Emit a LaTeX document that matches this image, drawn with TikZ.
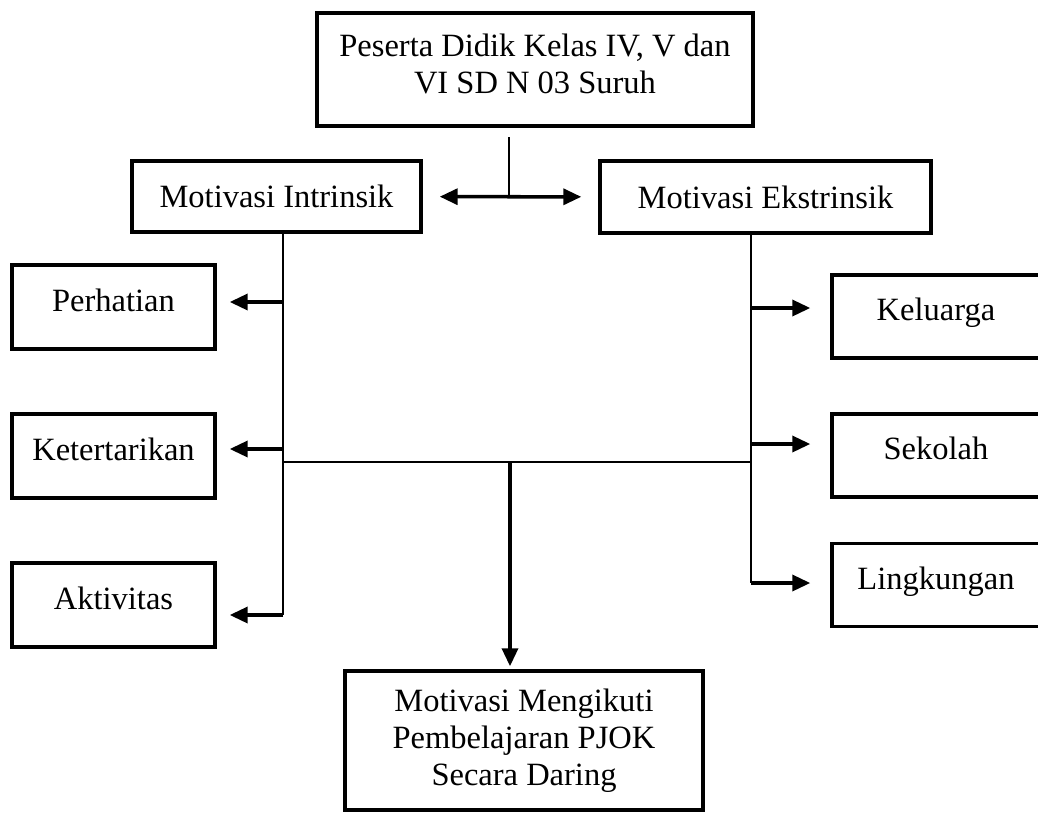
\documentclass[tikz,border=0pt]{standalone}
\usepackage{fontspec}
\setmainfont{Liberation Serif}
\usetikzlibrary{arrows.meta}
\tikzset{
  kotak/.style={draw, line width=2pt, align=center, inner sep=2pt,
    font=\fontsize{18.5}{21}\selectfont},
  isi/.style={text height=0.45cm, text depth=0.29cm},
  garis/.style={line width=0.8pt},
  panah/.style={line width=2pt, -{Triangle[length=0.36cm,width=0.32cm]}},
  panahdua/.style={line width=2pt,
    {Triangle[length=0.36cm,width=0.32cm]}-{Triangle[length=0.36cm,width=0.32cm]}}
}
\begin{document}
\begin{tikzpicture}[x=0.02cm, y=-0.02cm]
    \useasboundingbox (0,0) rectangle (1038,812) ;
    % kotak utama
    \node [kotak, minimum width=8.72cm, minimum height=2.26cm] (peserta) at (535,69.5)
      {Peserta Didik Kelas IV, V dan\\VI SD N 03 Suruh\\[-14pt]\mbox{}} ;
    \node [kotak, minimum width=5.78cm, minimum height=1.42cm] (intr) at (276.5,196.5)
      {Motivasi Intrinsik} ;
    \node [kotak, minimum width=6.62cm, minimum height=1.44cm] (ekst) at (765.5,197)
      {Motivasi Ekstrinsik} ;
    \node [kotak, minimum width=7.16cm, minimum height=2.78cm] (hasil) at (524,740.5)
      {Motivasi Mengikuti\\Pembelajaran PJOK\\Secara Daring} ;
    % indikator
    \foreach \n/\t/\y in {perh/Perhatian/307, ket/Ketertarikan/456, akt/Aktivitas/605}
      \node [kotak, isi, minimum width=4.06cm, minimum height=1.68cm] (\n) at (113.5,\y) {\t} ;
    \foreach \n/\t/\y in {kel/Keluarga/316.5, sek/Sekolah/455.5, ling/Lingkungan/585}
      \node [kotak, isi, minimum width=4.16cm, minimum height=1.66cm] (\n) at (936,\y) {\t} ;
    % garis penghubung
    \coordinate (atas) at (509,137) ;
    \coordinate (kiri) at (283,615) ;
    \coordinate (kanan) at (751,583) ;
    \coordinate (tengah) at (510,462) ;
    \draw [garis] (atas) -- (atas |- intr.east) ;
    \draw [panahdua, shorten <=0.34cm, shorten >=0.34cm] (intr) -- (ekst) ;
    \draw [garis] (kiri |- intr.south) -- (kiri) ;
    \draw [garis] (kanan |- ekst.south) -- (kanan) ;
    \draw [garis] (kiri |- tengah) -- (kanan |- tengah) ;
    \foreach \n/\y in {perh/302, ket/449, akt/615} {
      \coordinate (l\n) at (283,\y) ;
      \draw [panah, shorten >=0.26cm] (l\n) -- (l\n -| \n.east) ;
    }
    \foreach \n/\y in {kel/308, sek/444, ling/583} {
      \coordinate (r\n) at (751,\y) ;
      \draw [panah, shorten >=0.4cm] (r\n) -- (r\n -| \n.west) ;
    }
    \draw [panah, shorten >=0.06cm] (tengah) -- (tengah |- hasil.north) ;
\end{tikzpicture}
\end{document}
